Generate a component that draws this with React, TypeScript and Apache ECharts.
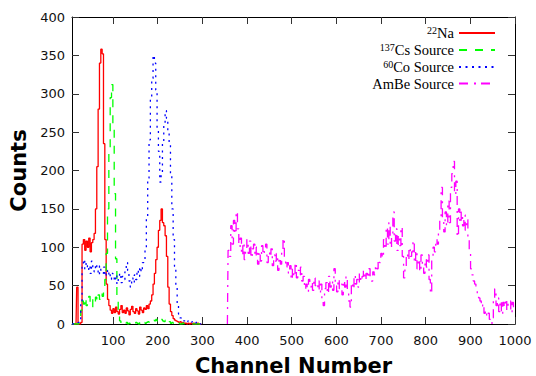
import React, { useEffect, useRef } from "react";
import * as echarts from "echarts";

// Histogram bins: channel = start + step * index
const CH_STEP = 3;
const LOW_START = 8;
const AMBE_START = 356;

const xTickValues = [100, 200, 300, 400, 500, 600, 700, 800, 900, 1000];

const seriesNames = ["22Na", "137Cs Source", "60Co Source", "AmBe Source"];

const naCounts = [
  0, 0, 0, 0, 48, 0, 0, 2, 104, 110,
  96, 108, 100, 112, 94, 106, 110, 118, 150, 205,
  280, 340, 358, 352, 235, 110, 52, 32, 24, 18,
  14, 20, 15, 22, 16, 13, 19, 24, 15, 18,
  14, 21, 17, 12, 19, 23, 16, 14, 20, 17,
  13, 22, 18, 15, 21, 19, 24, 20, 26, 30,
  38, 52, 66, 84, 100, 122, 135, 150, 132, 128,
  115, 88, 48, 26, 16, 11, 7, 5, 4, 3,
  2, 3, 1, 2, 1, 1, 0, 1, 0, 1,
  0, 1, 0, 0, 1, 0, 0, 0,
];

const csCounts = [
  0, 0, 0, 0, 0, 0, 4, 18, 30, 26,
  34, 24, 31, 36, 27, 22, 33, 28, 35, 30,
  38, 32, 40, 36, 46, 58, 92, 150, 225, 295,
  312, 258, 170, 85, 32, 12, 4, 1, 2, 0,
  1, 2, 0, 1, 2, 1, 0, 1, 2, 1,
  0, 2, 1, 3, 2, 1, 2, 3, 2, 4,
  3, 5, 4, 6, 4, 5, 3, 6, 4, 3,
  5, 2, 4, 3, 1, 2, 1, 0, 1, 0,
  1, 0, 0, 1, 0, 0, 0, 0, 0, 0,
  0, 0, 0, 0, 0, 0, 0, 0,
];

const coCounts = [
  0, 0, 0, 0, 1, 2, 4, 30, 78, 84,
  72, 80, 70, 76, 66, 82, 74, 68, 78, 72,
  64, 76, 70, 66, 74, 62, 70, 64, 68, 58,
  66, 62, 56, 64, 52, 60, 66, 54, 62, 58,
  68, 80, 70, 56, 48, 60, 54, 64, 58, 70,
  62, 74, 68, 80, 84, 100, 140, 190, 240, 295,
  320, 350, 340, 305, 255, 225, 185, 195, 235, 262,
  278, 268, 250, 236, 195, 150, 110, 75, 50, 24,
  13, 8, 6, 5, 4, 5, 3, 4, 3, 2,
  3, 2, 1, 2, 1, 1, 0, 0,
];

const ambeCounts = [
  0, 96, 88, 128, 104, 135, 118, 146, 124, 100,
  112, 90, 106, 84, 96, 110, 92, 108, 86, 98,
  104, 88, 100, 78, 94, 82, 102, 90, 96, 104,
  80, 94, 88, 98, 76, 90, 82, 92, 70, 86,
  78, 96, 112, 84, 74, 80, 66, 76, 58, 72,
  62, 80, 60, 70, 64, 74, 56, 62, 46, 52,
  42, 58, 48, 54, 44, 60, 50, 46, 56, 40,
  52, 30, 24, 46, 54, 40, 62, 48, 56, 44,
  72, 50, 42, 58, 46, 52, 38, 56, 48, 62,
  44, 30, 22, 54, 46, 64, 52, 58, 48, 66,
  56, 62, 70, 58, 66, 60, 72, 62, 56, 68,
  64, 76, 72, 84, 80, 92, 86, 110, 98, 126,
  104, 132, 100, 118, 146, 108, 124, 96, 116, 102,
  126, 88, 60, 72, 92, 84, 100, 88, 94, 108,
  80, 96, 72, 84, 68, 90, 76, 66, 84, 74,
  90, 58, 40, 86, 100, 94, 110, 104, 122, 140,
  178, 136, 120, 146, 128, 160, 132, 178, 196, 212,
  168, 186, 114, 150, 132, 146, 128, 142, 122, 136,
  110, 92, 72, 64, 56, 52, 44, 40, 34, 30,
  22, 26, 14, 18, 10, 14, 6, 0, 8, 30,
  46, 24, 34, 16, 30, 12, 28, 22, 32, 18,
  26, 30, 14, 28, 20,
];

const colors = ["#ff0000", "#00ff00", "#0000ff", "#ff00ff"];
const dashes: any[] = ["solid", [8, 8], [2, 4.5], [9, 6, 2, 5]];

const toPairs = (start: number, values: number[]) =>
  values.map((v, i) => [start + CH_STEP * i, v]);

const legendLabels: Record<string, string> = {
  "22Na": "{sup|22}{t|Na}",
  "137Cs Source": "{sup|137}{t|Cs Source}",
  "60Co Source": "{sup|60}{t|Co Source}",
  "AmBe Source": "{t|AmBe Source}",
};

export default function App() {
  const ref = useRef<HTMLDivElement>(null);
  useEffect(() => {
    if (!ref.current) return;
    const chart = echarts.init(ref.current, null, { renderer: "svg" });
    const datasets = [
      toPairs(LOW_START, naCounts),
      toPairs(LOW_START, csCounts),
      toPairs(LOW_START, coCounts),
      toPairs(AMBE_START, ambeCounts),
    ];
    const frameLine = { show: true, onZero: false, lineStyle: { color: "#000", width: 1 } };
    const tick = { show: true, inside: true, length: 7, lineStyle: { color: "#333", width: 1 } };
    const option: any = {
      animation: false,
      backgroundColor: "#fff",
      grid: { left: 72, right: 21, top: 17, bottom: 52, containLabel: false, outerBoundsMode: "none" },
      legend: {
        data: seriesNames,
        orient: "vertical",
        right: 35,
        top: 20,
        align: "right",
        itemWidth: 36,
        itemHeight: 14,
        itemGap: 1.5,
        itemStyle: { color: "transparent", borderColor: "transparent", borderWidth: 0, opacity: 0 },
        formatter: (name: string) => legendLabels[name] || name,
        textStyle: {
          color: "#000",
          fontFamily: "Liberation Serif",
          fontSize: 14,
          rich: {
            sup: { fontFamily: "Liberation Serif", fontSize: 10, verticalAlign: "top", lineHeight: 16 },
            t: { fontFamily: "Liberation Serif", fontSize: 14.5, lineHeight: 16 },
          },
        },
      },
      xAxis: [
        {
          type: "value",
          min: 8,
          max: 1000,
          position: "bottom",
          axisLine: frameLine,
          axisTick: { ...tick, customValues: xTickValues },
          axisLabel: {
            customValues: xTickValues,
            formatter: (v: number) => String(v),
            fontFamily: "DejaVu Sans",
            fontSize: 13,
            color: "#111",
            margin: 10,
          },
          splitLine: { show: false },
          name: "Channel Number",
          nameLocation: "middle",
          nameGap: 31,
          nameTextStyle: { fontFamily: "DejaVu Sans", fontWeight: "bold", fontSize: 21, color: "#000" },
        },
        {
          type: "value",
          min: 8,
          max: 1000,
          position: "top",
          axisLine: frameLine,
          axisTick: { ...tick, customValues: xTickValues },
          axisLabel: { show: false },
          splitLine: { show: false },
        },
      ],
      yAxis: [
        {
          type: "value",
          min: 0,
          max: 400,
          interval: 50,
          position: "left",
          axisLine: frameLine,
          axisTick: tick,
          axisLabel: { fontFamily: "DejaVu Sans", fontSize: 13, color: "#111", margin: 7 },
          splitLine: { show: false },
          name: "Counts",
          nameLocation: "middle",
          nameGap: 36,
          nameTextStyle: { fontFamily: "DejaVu Sans", fontWeight: "bold", fontSize: 21, color: "#000" },
        },
        {
          type: "value",
          min: 0,
          max: 400,
          interval: 50,
          position: "right",
          axisLine: frameLine,
          axisTick: tick,
          axisLabel: { show: false },
          splitLine: { show: false },
        },
      ],
      series: seriesNames.map((name, i) => ({
        name,
        type: "line",
        xAxisIndex: 0,
        yAxisIndex: 0,
        step: "middle",
        symbol: "none",
        showSymbol: false,
        data: datasets[i],
        color: colors[i],
        lineStyle: { color: colors[i], width: 1.3, type: dashes[i] },
        z: 2 + i,
      })),
    };
    chart.setOption(option);
    return () => chart.dispose();
  }, []);
  return (
    <div
      ref={ref}
      style={{ position: "absolute", left: 0, top: 0, width: 536, height: 376 }}
    />
  );
}
